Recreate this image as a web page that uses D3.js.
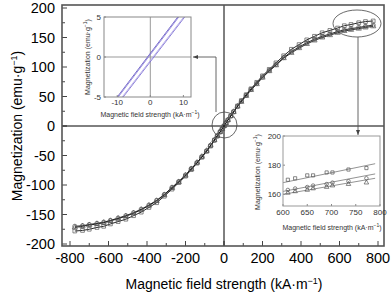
<html>
<script src='https://d3js.org/d3.v7.min.js'></script>
<style>
  body {margin:0; background:#fff;}
  text {font-family: 'Liberation Sans', Arial, sans-serif;}
</style>
<body>
<svg id="chart" width=392 height=295></svg>
<script>
// field strength (kA/m) where the points sit
var H = [-775,-735,-700,-660,-625,-590,-550,-510,-470,-430,-390,-350,-310,-270,-235,-200,-170,-140,-115,-90,-70,-50,-35,-20,-10,
         0,10,20,35,50,70,90,115,140,170,200,235,270,310,350,390,430,470,510,550,590,625,660,700,735,775];
var squares = [-178,-177,-175,-172,-170,-166,-162,-158,-152,-146,-138,-130,-119,-107,-96,-85,-74,-63,-53,-43,-34,-24,-17,-10,-5,
         0,5,10,17,24,34,43,53,63,74,85,96,107,119,130,138,146,152,158,162,166,170,172,175,177,178];
var circles = [-170,-169,-167,-165,-163,-160,-156,-152,-147,-141,-134,-126,-116,-104,-94,-83,-72,-62,-52,-42,-33,-24,-17,-10,-5,
         0,5,10,17,24,33,42,52,62,72,83,94,104,116,126,134,141,147,152,156,160,163,165,167,169,171];
var triangles = [-172,-170,-168,-166,-164,-161,-157,-153,-148,-142,-135,-127,-117,-105,-95,-84,-73,-62,-52,-42,-33,-24,-17,-10,-5,
         0,5,10,17,24,33,41,51,61,71,82,93,103,115,124,132,139,145,150,154,158,161,163,165,167,169];

var xTicks = [-800,-600,-400,-200,0,200,400,600,800];
var yTicks = [-200,-150,-100,-50,0,50,100,150,200];

// inset 1: loop near origin
var loopM = [-5, 5];
var loopH1 = [-10, 8.3];
var loopH1b = [-9.7, 8.6];
var loopH2 = [-8.2, 10.4];
var loopH2b = [-8.5, 10.1];
var in1XTicks = [-10, 0, 10];
var in1YTicks = [-5, 0, 5];

// inset 2: high field end
var hiH = [610,625,650,662,690,702,735,772];
var hiSq = [170,171,173,173,175,175,177,178];
var hiCi = [163,164,165,166,167,168,169,171];
var hiTr = [161,162,163,164,165,166,167,168];
var fitH = [600, 790];
var fitSq = [168, 181];
var fitCi = [162, 174];
var fitTr = [160, 171];
var in2XTicks = [600,650,700,750,800];
var in2YTicks = [160,180,200];

var svg = d3.select("#chart");
var x = d3.scaleLinear().domain([-800,800]).range([70,378]);
var y = d3.scaleLinear().domain([-200,200]).range([244,8]);
var L = 62, R = 384, T = 5, B = 246;

svg.append("defs").append("marker").attr("id","arr").attr("viewBox","0 0 10 10")
  .attr("refX",10).attr("refY",5).attr("markerWidth",6).attr("markerHeight",6).attr("orient","auto")
  .append("path").attr("d","M0,1 L10,5 L0,9 Z").attr("fill","#444");

// ticks inward
d3.range(-800,801,100).forEach(function(v){
  svg.append("line").attr("x1",x(v)).attr("x2",x(v)).attr("y1",B).attr("y2",B-(v%200==0?5:3)).attr("stroke","#444");
});
d3.range(-200,201,25).forEach(function(v){
  svg.append("line").attr("y1",y(v)).attr("y2",y(v)).attr("x1",L).attr("x2",L+(v%50==0?5:3)).attr("stroke","#444");
});
svg.selectAll(".xt").data(xTicks).enter().append("text").attr("x",d=>x(d)).attr("y",263)
  .attr("text-anchor","middle").attr("font-size",14.5).text(d=>d);
svg.selectAll(".yt").data(yTicks).enter().append("text").attr("x",55).attr("y",d=>y(d)+5)
  .attr("text-anchor","end").attr("font-size",14.5).text(d=>d);

// crosshair
svg.append("line").attr("x1",x(0)).attr("x2",x(0)).attr("y1",T).attr("y2",B).attr("stroke","#000");
svg.append("line").attr("x1",L).attr("x2",R).attr("y1",y(0)).attr("y2",y(0)).attr("stroke","#000");

// curves
var line = d3.line().x(d=>x(d[0])).y(d=>y(d[1]));
[squares, circles, triangles].forEach(function(s){
  svg.append("path").attr("d", line(H.map((h,i)=>[h,s[i]]))).attr("fill","none").attr("stroke","#111").attr("stroke-width",0.9);
});
var sym = {sq: d3.symbolSquare, ci: d3.symbolCircle, tr: d3.symbolTriangle};
function marks(g, xs, ys, hs, vals, type, size){
  g.selectAll(null).data(hs).enter().append("path")
    .attr("transform",(d,i)=>"translate("+xs(d)+","+ys(vals[i])+")")
    .attr("d", d3.symbol().type(sym[type]).size(size))
    .attr("fill","none").attr("stroke","#555").attr("stroke-width",0.7);
}
marks(svg, x, y, H, squares, "sq", 14);
marks(svg, x, y, H, circles, "ci", 14);
marks(svg, x, y, H, triangles, "tr", 12);

// frame
svg.append("rect").attr("x",L).attr("y",T).attr("width",R-L).attr("height",B-T)
  .attr("fill","none").attr("stroke","#555").attr("stroke-width",1.6);

// ellipses + arrows
svg.append("ellipse").attr("cx",224.5).attr("cy",125).attr("rx",12.5).attr("ry",13).attr("fill","none").attr("stroke","#444").attr("stroke-width",0.8);
svg.append("ellipse").attr("cx",357).attr("cy",23.5).attr("rx",24).attr("ry",13.5).attr("fill","none").attr("stroke","#444").attr("stroke-width",0.8);
svg.append("path").attr("d","M216,112 L216,57 L193,57").attr("fill","none").attr("stroke","#555").attr("stroke-width",0.9).attr("marker-end","url(#arr)");
svg.append("path").attr("d","M358,37 L358,135").attr("fill","none").attr("stroke","#555").attr("stroke-width",0.9).attr("marker-end","url(#arr)");

// axis titles
svg.append("text").attr("x",224).attr("y",289).attr("text-anchor","middle").attr("font-size",14)
  .html("Magnetic field strength (kA·m<tspan dy='-5' font-size='9'>−1</tspan><tspan dy='5'>)</tspan>");
svg.append("text").attr("transform","translate(22,126) rotate(-90)").attr("text-anchor","middle").attr("font-size",14)
  .html("Magnetization (emu·g<tspan dy='-5' font-size='9'>−1</tspan><tspan dy='5'>)</tspan>");

// ---- inset 1
var x1 = d3.scaleLinear().domain([-14,12.3]).range([104,191]);
var y1 = d3.scaleLinear().domain([-5,5]).range([97,17]);
var g1 = svg.append("g");
g1.append("rect").attr("x",104).attr("y",17).attr("width",87).attr("height",80).attr("fill","#fff");
g1.append("clipPath").attr("id","c1").append("rect").attr("x",104).attr("y",17).attr("width",87).attr("height",80);
g1.append("line").attr("x1",x1(0)).attr("x2",x1(0)).attr("y1",17).attr("y2",97).attr("stroke","#999");
g1.append("line").attr("x1",104).attr("x2",191).attr("y1",y1(0)).attr("y2",y1(0)).attr("stroke","#999");
var l1 = d3.line().x(d=>x1(d[0])).y(d=>y1(d[1]));
[[loopH1,"#6a5cc4"],[loopH1b,"#8a7fd8"],[loopH2,"#7f72d4"],[loopH2b,"#b4aae8"]].forEach(function(p){
  g1.append("path").attr("d", l1(p[0].map((h,i)=>[h,loopM[i]]))).attr("clip-path","url(#c1)")
    .attr("fill","none").attr("stroke",p[1]).attr("stroke-width",0.9);
});
in1XTicks.forEach(v=>g1.append("line").attr("x1",x1(v)).attr("x2",x1(v)).attr("y1",97).attr("y2",95).attr("stroke","#888"));
in1YTicks.forEach(v=>g1.append("line").attr("y1",y1(v)).attr("y2",y1(v)).attr("x1",104).attr("x2",106).attr("stroke","#888"));
g1.append("rect").attr("x",104).attr("y",17).attr("width",87).attr("height",80).attr("fill","none").attr("stroke","#888").attr("stroke-width",1);
g1.selectAll(".t").data(in1XTicks).enter().append("text").attr("x",d=>x1(d)).attr("y",105)
  .attr("text-anchor","middle").attr("font-size",8).attr("fill","#333").text(d=>d);
g1.selectAll(".u").data(in1YTicks).enter().append("text").attr("x",101).attr("y",d=>y1(d)+3)
  .attr("text-anchor","end").attr("font-size",8).attr("fill","#333").text(d=>d);
g1.append("text").attr("x",150).attr("y",117).attr("text-anchor","middle").attr("font-size",7).attr("fill","#333")
  .html("Magnetic field strength (kA·m<tspan dy='-3' font-size='5'>−1</tspan><tspan dy='3'>)</tspan>");
g1.append("text").attr("transform","translate(90,57) rotate(-90)").attr("text-anchor","middle").attr("font-size",7).attr("fill","#333")
  .html("Magnetization (emu·g<tspan dy='-3' font-size='5'>−1</tspan><tspan dy='3'>)</tspan>");

// ---- inset 2
var x2 = d3.scaleLinear().domain([600,800]).range([283,380]);
var y2 = d3.scaleLinear().domain([152,200]).range([206,136]);
var g2 = svg.append("g");
g2.append("rect").attr("x",283).attr("y",136).attr("width",97).attr("height",70).attr("fill","#fff");
var l2 = d3.line().x(d=>x2(d[0])).y(d=>y2(d[1]));
[fitSq, fitCi, fitTr].forEach(function(f){
  g2.append("path").attr("d", l2(fitH.map((h,i)=>[h,f[i]]))).attr("fill","none").attr("stroke","#777").attr("stroke-width",0.8);
});
marks(g2, x2, y2, hiH, hiSq, "sq", 10);
marks(g2, x2, y2, hiH, hiCi, "ci", 10);
marks(g2, x2, y2, hiH, hiTr, "tr", 9);
in2XTicks.forEach(v=>g2.append("line").attr("x1",x2(v)).attr("x2",x2(v)).attr("y1",206).attr("y2",204).attr("stroke","#888"));
in2YTicks.forEach(v=>g2.append("line").attr("y1",y2(v)).attr("y2",y2(v)).attr("x1",283).attr("x2",285).attr("stroke","#888"));
g2.append("rect").attr("x",283).attr("y",136).attr("width",97).attr("height",70).attr("fill","none").attr("stroke","#999").attr("stroke-width",1);
g2.selectAll(".t").data(in2XTicks).enter().append("text").attr("x",d=>x2(d)).attr("y",215)
  .attr("text-anchor","middle").attr("font-size",8).attr("fill","#333").text(d=>d);
g2.selectAll(".u").data(in2YTicks).enter().append("text").attr("x",281).attr("y",d=>y2(d)+3)
  .attr("text-anchor","end").attr("font-size",8).attr("fill","#333").text(d=>d);
g2.append("text").attr("x",332).attr("y",230).attr("text-anchor","middle").attr("font-size",7).attr("fill","#333")
  .html("Magnetic field strength (kA·m<tspan dy='-3' font-size='5'>−1</tspan><tspan dy='3'>)</tspan>");
g2.append("text").attr("transform","translate(260,172) rotate(-90)").attr("text-anchor","middle").attr("font-size",7).attr("fill","#333")
  .html("Magnetization (emu·g<tspan dy='-3' font-size='5'>−1</tspan><tspan dy='3'>)</tspan>");
</script>
</body>
</html>
